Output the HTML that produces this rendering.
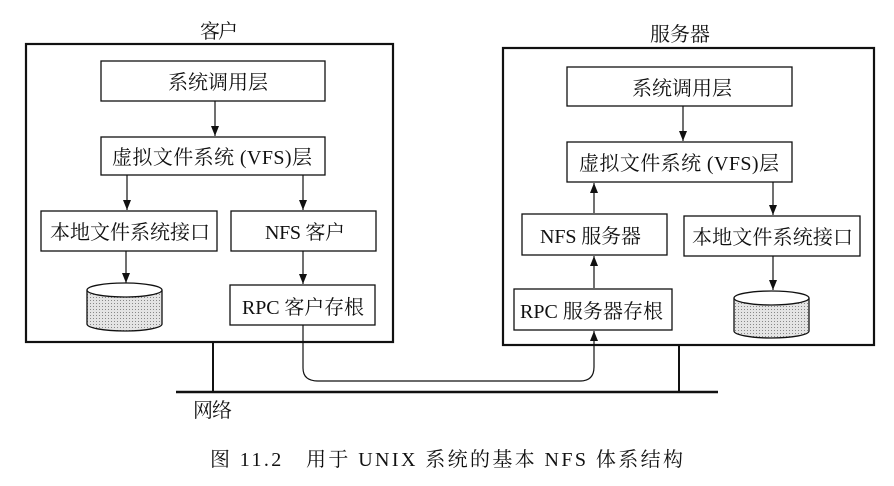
<!DOCTYPE html>
<html><head><meta charset="utf-8"><style>
html,body{margin:0;padding:0;background:#fff;}
svg{display:block;}
text{font-family:"Liberation Serif","Noto Serif CJK SC","Noto Sans CJK SC",serif;fill:#111;}
</style></head><body>
<svg width="894" height="486" viewBox="0 0 894 486" xmlns="http://www.w3.org/2000/svg">
<defs>
<marker id="a" markerWidth="10" markerHeight="8" refX="10" refY="4" orient="auto" markerUnits="userSpaceOnUse">
<path d="M0,0 L10,4 L0,8 Z" fill="#111"/>
</marker>
<pattern id="dots" width="3" height="3" patternUnits="userSpaceOnUse">
<rect width="3" height="3" fill="#e4e4e4"/><rect width="1" height="1" fill="#888"/>
</pattern>
</defs>
<g stroke="#111" fill="none">
<rect x="26" y="44" width="367" height="298" stroke-width="2.2"/>
<rect x="101" y="61" width="224" height="40" stroke-width="1.3"/>
<rect x="101" y="137" width="224" height="38" stroke-width="1.3"/>
<rect x="41" y="211" width="176" height="40" stroke-width="1.3"/>
<rect x="231" y="211" width="145" height="40" stroke-width="1.3"/>
<rect x="230" y="285" width="145" height="40" stroke-width="1.3"/>
<rect x="503" y="48" width="371" height="297" stroke-width="2.2"/>
<rect x="567" y="67" width="225" height="39" stroke-width="1.3"/>
<rect x="567" y="142" width="225" height="40" stroke-width="1.3"/>
<rect x="522" y="214" width="145" height="41" stroke-width="1.3"/>
<rect x="684" y="216" width="176" height="40" stroke-width="1.3"/>
<rect x="514" y="289" width="158" height="41" stroke-width="1.3"/>
<line x1="176" y1="392" x2="718" y2="392" stroke-width="2.5"/>
<line x1="213" y1="342" x2="213" y2="392" stroke-width="2"/>
<line x1="679" y1="345" x2="679" y2="392" stroke-width="2"/>
<g stroke-width="1.2">
<line x1="215" y1="101" x2="215" y2="136" marker-end="url(#a)"/>
<line x1="127" y1="175" x2="127" y2="210" marker-end="url(#a)"/>
<line x1="303" y1="175" x2="303" y2="210" marker-end="url(#a)"/>
<line x1="126" y1="251" x2="126" y2="283" marker-end="url(#a)"/>
<line x1="303" y1="251" x2="303" y2="284" marker-end="url(#a)"/>
<line x1="683" y1="106" x2="683" y2="141" marker-end="url(#a)"/>
<line x1="594" y1="213" x2="594" y2="183" marker-end="url(#a)"/>
<line x1="594" y1="288" x2="594" y2="256" marker-end="url(#a)"/>
<line x1="773" y1="182" x2="773" y2="215" marker-end="url(#a)"/>
<line x1="773" y1="256" x2="773" y2="290" marker-end="url(#a)"/>
<path d="M303,325 L303,368 Q303,381 318,381 L580,381 Q594,381 594,367 L594,331" marker-end="url(#a)"/>
</g>
<path d="M87,290 L87,324 A37.5,7 0 0 0 162,324 L162,290" fill="url(#dots)" stroke-width="1.3"/>
<ellipse cx="124.5" cy="290" rx="37.5" ry="7" fill="#fff" stroke-width="1.3"/>
<path d="M734,298 L734,331 A37.5,7 0 0 0 809,331 L809,298" fill="url(#dots)" stroke-width="1.3"/>
<ellipse cx="771.5" cy="298" rx="37.5" ry="7" fill="#fff" stroke-width="1.3"/>
</g>
<g font-size="20">
<text x="200" y="38" textLength="38">客户</text>
<text x="650" y="41" textLength="60">服务器</text>
<text x="168" y="89" textLength="100">系统调用层</text>
<text x="112" y="164" textLength="200">虚拟文件系统 (VFS)层</text>
<text x="50" y="239" textLength="160">本地文件系统接口</text>
<text x="265" y="239" textLength="80">NFS 客户</text>
<text x="242" y="314" textLength="122">RPC 客户存根</text>
<text x="632" y="95" textLength="100">系统调用层</text>
<text x="579" y="170" textLength="200">虚拟文件系统 (VFS)层</text>
<text x="540" y="243" textLength="101">NFS 服务器</text>
<text x="692" y="244" textLength="161">本地文件系统接口</text>
<text x="520" y="318" textLength="143">RPC 服务器存根</text>
<text x="193" y="417" textLength="39">网络</text>
<text x="210" y="466" font-size="20" textLength="473">图 11.2　用于 UNIX 系统的基本 NFS 体系结构</text>
</g>
</svg>
</body></html>
